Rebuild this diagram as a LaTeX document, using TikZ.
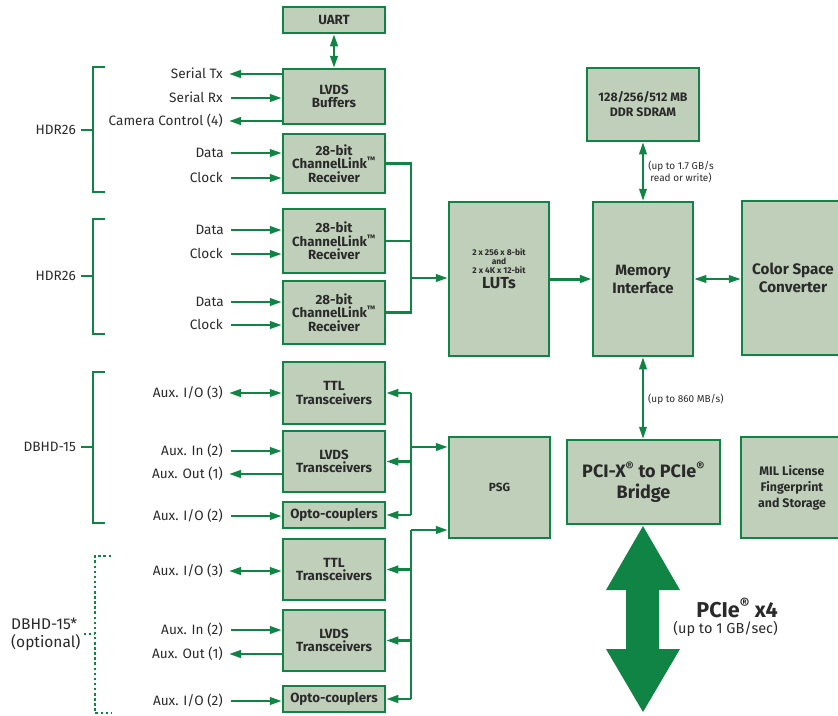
\documentclass[tikz,border=0pt]{standalone}
\usepackage{fontspec}
\setmainfont{Fira Sans}
\usetikzlibrary{arrows.meta}
\definecolor{grn}{HTML}{108444}
\definecolor{boxfill}{HTML}{C0CFB9}
\definecolor{txt}{HTML}{2A2A2A}
\begin{document}
\begin{tikzpicture}[x=1pt,y=-1pt,
  box/.style={draw=grn, fill=boxfill, line width=2.5pt, inner sep=0pt, align=center, text=txt,
    font=\fontsize{13.3}{13.5}\selectfont\bfseries},
  lab/.style={anchor=east, inner sep=0pt, text=txt, text height=9.5pt, text depth=0pt,
    font=\fontsize{13.6}{13.6}\selectfont},
  ln/.style={draw=grn, line width=2.5pt},
  arr/.style={ln, -{Triangle[length=12pt,width=7.5pt]}},
  dbl/.style={ln, {Triangle[length=12pt,width=7.5pt]}-{Triangle[length=12pt,width=7.5pt]}},
  thinarr/.style={draw=grn, line width=2pt, {Triangle[length=12pt,width=7.5pt]}-{Triangle[length=12pt,width=7.5pt]}},
  brk/.style={ln, line width=2.6pt},
  note/.style={text=txt, inner sep=0pt, font=\fontsize{10}{11.5}\selectfont},
]
\useasboundingbox (0,0) rectangle (838,715);
\clip (0,0) rectangle (838,715);

% ---------- boxes ----------
\node[box, minimum width=102pt, minimum height=26pt] (uart) at (334,20) {UART};
\node[box, minimum width=102pt, minimum height=55pt] (lvdsbuf) at (334,96.5) {LVDS\\Buffers};
\node[box, minimum width=102pt, minimum height=59pt] (cl1) at (334,163.5) {28-bit\\ChannelLink\textsuperscript{™}\\Receiver};
\node[box, minimum width=102pt, minimum height=64pt] (cl2) at (334,241) {28-bit\\ChannelLink\textsuperscript{™}\\Receiver};
\node[box, minimum width=102pt, minimum height=63pt] (cl3) at (334,312.5) {28-bit\\ChannelLink\textsuperscript{™}\\Receiver};
\node[box, minimum width=102pt, minimum height=62pt] (ttl1) at (334,393) {TTL\\Transceivers};
\node[box, minimum width=102pt, minimum height=61pt] (lvdst1) at (334,461.5) {LVDS\\Transceivers};
\node[box, minimum width=102pt, minimum height=26pt] (opto1) at (334,515) {Opto-couplers};
\node[box, minimum width=102pt, minimum height=61pt] (ttl2) at (334,569.5) {TTL\\Transceivers};
\node[box, minimum width=102pt, minimum height=61pt] (lvdst2) at (334,640.5) {LVDS\\Transceivers};
\node[box, minimum width=102pt, minimum height=26pt] (opto2) at (334,699) {Opto-couplers};

\node[box, minimum width=112pt, minimum height=73pt, font=\fontsize{12.3}{15}\selectfont\bfseries] (ddr) at (643,104.5) {128/256/512 MB\\DDR SDRAM};
\node[box, minimum width=100pt, minimum height=154pt] (luts) at (499,279) {};
\node[text=txt, align=center, inner sep=0pt, font=\fontsize{8.4}{9}\selectfont\bfseries] (lutstxt) at (499,269)
  {2 x 256 x 8-bit\\and\\2 x 4K x 12-bit\\[3pt]{\fontsize{16}{16}\selectfont LUTs}};
\node[box, minimum width=100pt, minimum height=154pt, font=\fontsize{15}{18}\selectfont\bfseries] (mem) at (643,279) {Memory\\Interface};
\node[box, minimum width=102pt, minimum height=154pt, font=\fontsize{15.2}{18}\selectfont\bfseries] (csc) at (793,278) {Color Space\\Converter};
\node[box, minimum width=101pt, minimum height=101pt, font=\fontsize{11.8}{12}\selectfont\bfseries] (psg) at (499.5,487.5) {PSG};
\node[box, minimum width=153pt, minimum height=84pt, font=\fontsize{18}{21}\selectfont\bfseries] (bridge) at (643.5,482)
  {PCI-X\textsuperscript{®} to PCIe\textsuperscript{®}\\Bridge};
\node[box, minimum width=102pt, minimum height=101pt, font=\fontsize{12.4}{16}\selectfont\bfseries] (mil) at (792,487.5)
  {MIL License\\Fingerprint\\and Storage};

% ---------- left labels ----------
\node[lab] (stx) at (223,74) {Serial Tx};
\node[lab] (srx) at (223,98) {Serial Rx};
\node[lab] (cam) at (223,121) {Camera Control (4)};
\node[lab] (d1) at (224,153) {Data};
\node[lab] (c1) at (223,178) {Clock};
\node[lab] (d2) at (224,230) {Data};
\node[lab] (c2) at (223,254) {Clock};
\node[lab] (d3) at (224,302) {Data};
\node[lab] (c3) at (223,325) {Clock};
\node[lab] (aio1) at (223,393) {Aux. I/O (3)};
\node[lab] (ain1) at (223,451) {Aux. In (2)};
\node[lab] (aout1) at (223,474) {Aux. Out (1)};
\node[lab] (aio2) at (223,516) {Aux. I/O (2)};
\node[lab] (aio3) at (223,571) {Aux. I/O (3)};
\node[lab] (ain2) at (223,630) {Aux. In (2)};
\node[lab] (aout2) at (223,654) {Aux. Out (1)};
\node[lab] (aio4) at (223,701) {Aux. I/O (2)};

\node[lab] (hdr1) at (76,130) {HDR26};
\node[lab] (hdr2) at (76,276) {HDR26};
\node[lab] (dbhd) at (76,447) {DBHD-15};
\node[anchor=west, align=left, inner sep=0pt, text=txt, font=\fontsize{15.5}{18}\selectfont] (dbhdo) at (11,634) {DBHD-15*\\(optional)};

% ---------- brackets ----------
\draw[brk] (105,67) -- (93,67) -- (93,192) -- (105,192);
\draw[brk] (hdr1.east) ++(5,0) -- (93,130);
\draw[brk] (105,219) -- (93,219) -- (93,334) -- (105,334);
\draw[brk] (hdr2.east) ++(5,0) -- (93,276);
\draw[brk] (105,372) -- (93,372) -- (93,523) -- (105,523);
\draw[brk] (dbhd.east) ++(5,0) -- (93,447);
\draw[brk, dash pattern=on 2.5pt off 2.6pt] (111,556) -- (95,556) -- (95,713) -- (111,713);
\draw[brk, dash pattern=on 2.5pt off 2.6pt] (dbhdo.east) ++(3,0) -- (95,634);

% ---------- left arrows ----------
\draw[dbl] (uart.south) -- (lvdsbuf.north);
\draw[arr] (lvdsbuf.west |- stx.east) -- ([xshift=6pt]stx.east);
\draw[arr] ([xshift=8pt]srx.east) -- (lvdsbuf.west |- srx.east);
\draw[arr] (lvdsbuf.west |- cam.east) -- ([xshift=6pt]cam.east);
\draw[arr] ([xshift=7pt]d1.east) -- (cl1.west |- d1.east);
\draw[arr] ([xshift=8pt]c1.east) -- (cl1.west |- c1.east);
\draw[arr] ([xshift=7pt]d2.east) -- (cl2.west |- d2.east);
\draw[arr] ([xshift=8pt]c2.east) -- (cl2.west |- c2.east);
\draw[arr] ([xshift=7pt]d3.east) -- (cl3.west |- d3.east);
\draw[arr] ([xshift=8pt]c3.east) -- (cl3.west |- c3.east);
\draw[dbl] ([xshift=6pt]aio1.east) -- (ttl1.west |- aio1.east);
\draw[arr] ([xshift=8pt]ain1.east) -- (lvdst1.west |- ain1.east);
\draw[arr] (lvdst1.west |- aout1.east) -- ([xshift=6pt]aout1.east);
\draw[arr] ([xshift=8pt]aio2.east) -- (opto1.west |- aio2.east);
\draw[dbl] ([xshift=6pt]aio3.east) -- (ttl2.west |- aio3.east);
\draw[arr] ([xshift=8pt]ain2.east) -- (lvdst2.west |- ain2.east);
\draw[arr] (lvdst2.west |- aout2.east) -- ([xshift=6pt]aout2.east);
\draw[arr] ([xshift=8pt]aio4.east) -- (opto2.west |- aio4.east);

% ---------- buses ----------
\coordinate (b1) at (411,278);
\draw[ln] (cl1.east) -| (b1) |- (cl3.east);
\draw[ln] (cl2.east) -- (cl2.east -| b1);
\draw[arr] (b1) -- (b1 -| luts.west);

\coordinate (b2) at (411,447);
\draw[ln] (b2 |- ttl1.east) -- (b2 |- opto1.east);
\draw[arr] (b2 |- ttl1.east) -- (ttl1.east);
\draw[arr] (b2 |- lvdst1.east) -- (lvdst1.east);
\draw[arr] (b2 |- opto1.east) -- (opto1.east);
\draw[arr] (b2) -- (b2 -| psg.west);

\coordinate (b3) at (411,530);
\draw[ln] (b3) -- (b3 |- opto2.east);
\draw[arr] (b3) -- (b3 -| psg.west);
\draw[arr] (b3 |- ttl2.east) -- (ttl2.east);
\draw[arr] (b3 |- lvdst2.east) -- (lvdst2.east);
\draw[arr] (b3 |- opto2.east) -- (opto2.east);

% ---------- right connectors ----------
\draw[arr, line width=3pt] (luts.east) -- (mem.west);
\draw[thinarr] (mem.east) -- (mem.east -| csc.west);
\draw[thinarr] (ddr.south) -- (mem.north);
\draw[thinarr] (mem.south) -- (mem.south |- bridge.north);
\node[note, align=center] (n1) at (681,172) {(up to 1.7 GB/s\\read or write)};
\node[note, anchor=west] (n2) at (648,399) {(up to 860 MB/s)};

% ---------- PCIe big arrow ----------
\fill[grn] (643,526) -- (680,590) -- (659,590) -- (659,649) -- (680,649) -- (643,712)
  -- (606,649) -- (626,649) -- (626,590) -- (606,590) -- cycle;
\node[anchor=east, inner sep=0pt, text=txt, font=\fontsize{21.5}{21.5}\selectfont\bfseries] (pcie) at (778,608) {PCIe\textsuperscript{®} x4};
\node[anchor=east, inner sep=0pt, text=txt, font=\fontsize{14.5}{14.5}\selectfont] (pcies) at (778,629) {(up to 1 GB/sec)};
\end{tikzpicture}
\end{document}
